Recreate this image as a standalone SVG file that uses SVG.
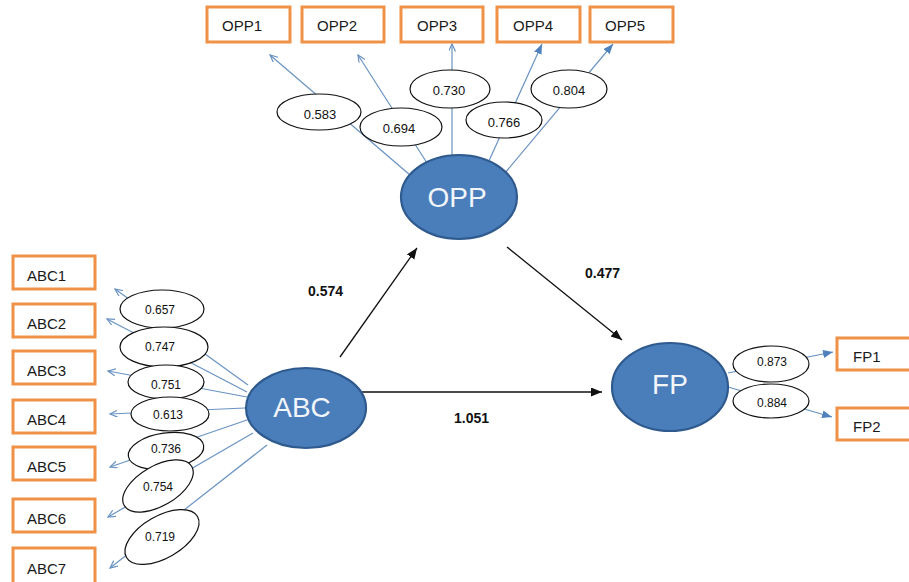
<svg xmlns="http://www.w3.org/2000/svg" width="909" height="582" viewBox="0 0 909 582">
<defs>
<style>
.box{fill:#fff;stroke:#ef9247;stroke-width:3}
.btx{font-family:"Liberation Sans",Arial,sans-serif;font-size:15px;fill:#1a1a1a}
.lat{fill:#4a7ebb;stroke:#2f5a8e;stroke-width:2.2}
.ltx{font-family:"Liberation Sans",Arial,sans-serif;font-size:28px;fill:#f2f5fa;text-anchor:middle}
.ind{stroke:#6a93c2;stroke-width:1.2;fill:none}
.path{stroke:#111;stroke-width:1.3;fill:none;marker-end:url(#blk)}
.ld{fill:#fff;stroke:#111;stroke-width:1.2}
.ldt{font-family:"Liberation Sans",Arial,sans-serif;font-size:12px;fill:#111;text-anchor:middle}
.ldt2{font-family:"Liberation Sans",Arial,sans-serif;font-size:13px;fill:#111;text-anchor:middle}
.coef{font-family:"Liberation Sans",Arial,sans-serif;font-size:14px;font-weight:bold;fill:#111}
</style>
<marker id="blk" markerUnits="userSpaceOnUse" markerWidth="12" markerHeight="10" refX="11" refY="4.5" orient="auto"><path d="M0,0 L11,4.5 L0,9 z" fill="#111"/></marker>
<marker id="bf" markerUnits="userSpaceOnUse" markerWidth="11" markerHeight="9" refX="10" refY="4" orient="auto"><path d="M0,0 L10,4 L0,8 z" fill="#4f81bd"/></marker>
<marker id="bo" markerUnits="userSpaceOnUse" markerWidth="9" markerHeight="8" refX="7.5" refY="3.5" orient="auto"><path d="M0,0 L7.5,3.5 L0,7" fill="none" stroke="#6a93c2" stroke-width="1.2"/></marker>
</defs>
<rect width="909" height="582" fill="#fff"/>

<g id="connectors">
<line class="ind" x1="410" y1="175" x2="270" y2="55" marker-end="url(#bo)"/>
<line class="ind" x1="427" y1="163" x2="358" y2="55" marker-end="url(#bo)"/>
<line class="ind" x1="452" y1="155" x2="452" y2="44" marker-end="url(#bo)"/>
<line class="ind" x1="488" y1="163" x2="542" y2="44" marker-end="url(#bf)"/>
<line class="ind" x1="505" y1="173" x2="613" y2="44" marker-end="url(#bf)"/>
<line class="ind" x1="248" y1="385" x2="115" y2="289" marker-end="url(#bo)"/>
<line class="ind" x1="247" y1="392" x2="107" y2="319" marker-end="url(#bo)"/>
<line class="ind" x1="247" y1="397" x2="108" y2="371" marker-end="url(#bo)"/>
<line class="ind" x1="245" y1="408" x2="110" y2="414" marker-end="url(#bo)"/>
<line class="ind" x1="247" y1="420" x2="110" y2="467" marker-end="url(#bo)"/>
<line class="ind" x1="253" y1="433" x2="108" y2="517" marker-end="url(#bo)"/>
<line class="ind" x1="267" y1="445" x2="110" y2="568" marker-end="url(#bo)"/>
<line class="ind" x1="728" y1="373" x2="833" y2="352" marker-end="url(#bf)"/>
<line class="ind" x1="728" y1="387" x2="832" y2="417" marker-end="url(#bf)"/>
<line class="path" x1="340" y1="357" x2="417" y2="248"/>
<line class="path" x1="507" y1="247" x2="622" y2="340"/>
<line class="path" x1="361" y1="392" x2="602" y2="392"/>

<g id="loadings">
<ellipse class="ld" cx="319" cy="112" rx="42" ry="18"/><text class="ldt2" x="320" y="119">0.583</text>
<ellipse class="ld" cx="401" cy="127" rx="41" ry="19"/><text class="ldt2" x="399" y="133">0.694</text>
<ellipse class="ld" cx="450" cy="89" rx="40" ry="19"/><text class="ldt2" x="449" y="95">0.730</text>
<ellipse class="ld" cx="504" cy="120" rx="38" ry="18"/><text class="ldt2" x="504" y="127">0.766</text>
<ellipse class="ld" cx="569" cy="89" rx="38" ry="19"/><text class="ldt2" x="569" y="95">0.804</text>
<ellipse class="ld" cx="162" cy="309" rx="42" ry="19"/><text class="ldt" x="160" y="314">0.657</text>
<ellipse class="ld" cx="164" cy="347" rx="44" ry="20"/><text class="ldt" x="160" y="351">0.747</text>
<ellipse class="ld" cx="166" cy="382" rx="38" ry="17"/><text class="ldt" x="166" y="389">0.751</text>
<ellipse class="ld" cx="170" cy="414" rx="39" ry="17"/><text class="ldt" x="168" y="419">0.613</text>
<ellipse class="ld" cx="166" cy="451" rx="38" ry="18" transform="rotate(-8 166 451)"/><text class="ldt" x="166" y="453">0.736</text>
<ellipse class="ld" cx="158" cy="486" rx="39" ry="20" transform="rotate(-30 158 486)"/><text class="ldt" x="158" y="491">0.754</text>
<ellipse class="ld" cx="162" cy="537" rx="41" ry="21" transform="rotate(-30 162 537)"/><text class="ldt" x="160" y="541">0.719</text>
<ellipse class="ld" cx="771" cy="364" rx="38" ry="18"/><text class="ldt" x="772" y="366">0.873</text>
<ellipse class="ld" cx="771" cy="401" rx="38" ry="17"/><text class="ldt" x="772" y="407">0.884</text>
</g>
<text class="coef" x="308" y="296">0.574</text>
<text class="coef" x="585" y="278">0.477</text>
<text class="coef" x="454" y="423">1.051</text>
</g>

<g id="OPP"><ellipse class="lat" cx="459" cy="197" rx="58" ry="42"/><text class="ltx" x="457" y="207">OPP</text></g>
<g id="ABC"><ellipse class="lat" cx="306" cy="408" rx="60" ry="40"/><text class="ltx" x="302" y="417">ABC</text></g>
<g id="FP"><ellipse class="lat" cx="670" cy="387" rx="58" ry="44"/><text class="ltx" x="670" y="394">FP</text></g>

<g id="OPP1"><rect class="box" x="207" y="7" width="83" height="35"/><text class="btx" x="222" y="31">OPP1</text></g>
<g id="OPP2"><rect class="box" x="302" y="7" width="82" height="35"/><text class="btx" x="317" y="31">OPP2</text></g>
<g id="OPP3"><rect class="box" x="401" y="7" width="82" height="35"/><text class="btx" x="417" y="31">OPP3</text></g>
<g id="OPP4"><rect class="box" x="497" y="7" width="83" height="35"/><text class="btx" x="513" y="31">OPP4</text></g>
<g id="OPP5"><rect class="box" x="590" y="7" width="83" height="35"/><text class="btx" x="605" y="31">OPP5</text></g>

<g id="ABC1"><rect class="box" x="13" y="256" width="82" height="33"/><text class="btx" x="27" y="281">ABC1</text></g>
<g id="ABC2"><rect class="box" x="13" y="304" width="82" height="33"/><text class="btx" x="27" y="329">ABC2</text></g>
<g id="ABC3"><rect class="box" x="13" y="351" width="82" height="33"/><text class="btx" x="27" y="376">ABC3</text></g>
<g id="ABC4"><rect class="box" x="13" y="400" width="82" height="33"/><text class="btx" x="27" y="425">ABC4</text></g>
<g id="ABC5"><rect class="box" x="13" y="447" width="82" height="33"/><text class="btx" x="27" y="472">ABC5</text></g>
<g id="ABC6"><rect class="box" x="13" y="499" width="82" height="33"/><text class="btx" x="27" y="524">ABC6</text></g>
<g id="ABC7"><rect class="box" x="13" y="548" width="82" height="40"/><text class="btx" x="27" y="574">ABC7</text></g>

<g id="FP1"><rect class="box" x="837" y="338" width="80" height="32"/><text class="btx" x="853" y="362">FP1</text></g>
<g id="FP2"><rect class="box" x="837" y="408" width="80" height="32"/><text class="btx" x="853" y="432">FP2</text></g>
</svg>
